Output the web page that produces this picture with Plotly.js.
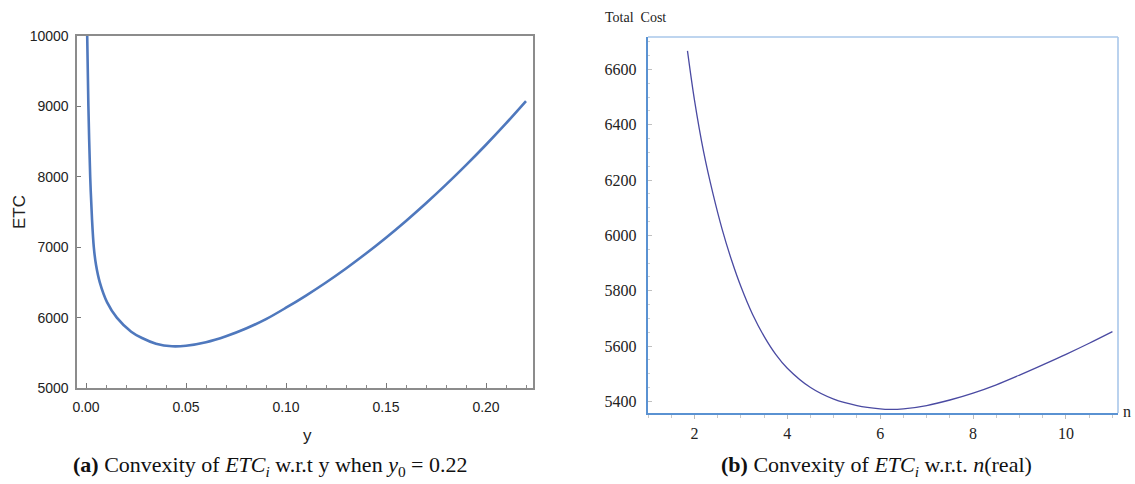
<!DOCTYPE html>
<html>
<head>
<meta charset="utf-8">
<script src="https://cdn.plot.ly/plotly-3.0.1.min.js"></script>
<style>html,body{margin:0;padding:0;background:#fff;}#chart{width:1135px;height:484px;}</style>
</head>
<body>
<div id="chart"></div>
<script>
// Panel (a): ETC vs y
const yValues = [0.0006, 0.0012, 0.0021, 0.003, 0.0039, 0.005, 0.0069, 0.0105, 0.0154, 0.0226, 0.028, 0.035, 0.043, 0.05, 0.06, 0.07, 0.08, 0.09, 0.10, 0.11, 0.12, 0.13, 0.14, 0.15, 0.16, 0.17, 0.18, 0.19, 0.20, 0.21, 0.22];
const etcValues = [10000, 9000, 8000, 7400, 7000, 6750, 6500, 6220, 6000, 5800, 5710, 5630, 5592, 5600, 5650, 5735, 5845, 5978, 6140, 6313, 6499, 6698, 6910, 7135, 7373, 7624, 7888, 8165, 8455, 8758, 9075];
const xTicksA = [0.00, 0.05, 0.10, 0.15, 0.20];
const xTickLabelsA = ["0.00", "0.05", "0.10", "0.15", "0.20"];
const yTicksA = [5000, 6000, 7000, 8000, 9000, 10000];
const yTickLabelsA = ["5000", "6000", "7000", "8000", "9000", "10000"];

// Panel (b): Total Cost vs n
const nValues = [1.85, 2.0, 2.2, 2.4, 2.6, 2.8, 3.0, 3.25, 3.5, 3.75, 4.0, 4.5, 5.0, 5.5, 6.0, 6.2, 6.5, 7.0, 7.5, 8.0, 8.5, 9.0, 9.5, 10.0, 10.5, 11.0];
const costValues = [6667, 6490, 6300, 6150, 6020, 5910, 5815, 5715, 5635, 5570, 5520, 5450, 5408, 5385, 5373, 5371, 5373, 5385, 5405, 5430, 5460, 5495, 5532, 5570, 5610, 5652];
const xTicksB = [2, 4, 6, 8, 10];
const yTicksB = [5400, 5600, 5800, 6000, 6200, 6400, 6600];

const sans = "Liberation Sans, Arial, sans-serif";
const serif = "Liberation Serif";

const traces = [
  {x: yValues, y: etcValues, xaxis: 'x', yaxis: 'y', mode: 'lines',
   line: {color: '#4f78bd', width: 2.6, shape: 'spline', smoothing: 0.9}, hoverinfo: 'skip'},
  {x: nValues, y: costValues, xaxis: 'x2', yaxis: 'y2', mode: 'lines',
   line: {color: '#4a4aa2', width: 1.3, shape: 'spline', smoothing: 0.9}, hoverinfo: 'skip'}
];

const layout = {
  width: 1135, height: 484,
  margin: {l: 0, r: 0, t: 0, b: 0},
  paper_bgcolor: '#ffffff', plot_bgcolor: '#ffffff',
  showlegend: false,
  xaxis: {
    domain: [77/1135, 533/1135], range: [-0.0045, 0.2235],
    tickvals: xTicksA, ticktext: xTickLabelsA,
    ticks: 'inside', ticklen: 5, tickcolor: '#777', tickwidth: 1,
    minor: {dtick: 0.01, tick0: 0, ticks: 'inside', ticklen: 3, tickcolor: '#888'},
    showline: true, linecolor: '#8c8c8c', linewidth: 1.6, mirror: true,
    showgrid: false, zeroline: false, ticklabelstandoff: 6,
    tickfont: {family: sans, size: 14, color: '#222'}, anchor: 'y'
  },
  yaxis: {
    domain: [(484-388)/484, (484-36)/484], range: [5000, 10000],
    tickvals: yTicksA, ticktext: yTickLabelsA,
    ticks: 'inside', ticklen: 4, tickcolor: '#777',
    showline: true, linecolor: '#8c8c8c', linewidth: 1.6, mirror: true,
    showgrid: false, zeroline: false, ticklabelstandoff: 4,
    tickfont: {family: sans, size: 14, color: '#222'}, anchor: 'x'
  },
  xaxis2: {
    domain: [648/1135, 1118/1135], range: [1.0, 11.12],
    tickvals: xTicksB,
    ticks: 'outside', ticklen: 4, tickcolor: '#bbbbbb',
    minor: {dtick: 0.5, tick0: 0, ticks: 'outside', ticklen: 3, tickcolor: '#c8c8c8'},
    showline: true, linecolor: '#5a92d2', linewidth: 2.2,
    showgrid: false, zeroline: false, ticklabelstandoff: 1,
    tickfont: {family: serif, size: 16, color: '#222'}, anchor: 'y2'
  },
  yaxis2: {
    domain: [(484-413)/484, (484-37)/484], range: [5358, 6717],
    tickvals: yTicksB,
    ticks: 'inside', ticklen: 4, tickcolor: '#c0c0c0',
    minor: {dtick: 50, ticks: 'inside', ticklen: 2, tickcolor: '#d0d0d0'},
    showline: true, linecolor: '#5a92d2', linewidth: 2.2,
    showgrid: false, zeroline: false, ticklabelstandoff: 6,
    tickfont: {family: serif, size: 16, color: '#222'}, anchor: 'x2'
  },
  shapes: [
    {type: 'line', xref: 'x2 domain', yref: 'y2 domain', x0: 0, x1: 1, y0: 1, y1: 1,
     line: {color: '#a9c7ea', width: 1.6}},
    {type: 'line', xref: 'x2 domain', yref: 'y2 domain', x0: 1, x1: 1, y0: 0, y1: 1,
     line: {color: '#a9c7ea', width: 1.6}}
  ],
  annotations: [
    {text: 'ETC', xref: 'paper', yref: 'paper', x: 19/1135, y: (484-212)/484, textangle: -90,
     xanchor: 'center', yanchor: 'middle',
     showarrow: false, font: {family: sans, size: 17, color: '#222'}},
    {text: 'y', xref: 'paper', yref: 'paper', x: 307/1135, y: (484-435)/484,
     xanchor: 'center', yanchor: 'middle',
     showarrow: false, font: {family: sans, size: 17, color: '#222'}},
    {text: 'Total  Cost', xref: 'paper', yref: 'paper', x: 635/1135, y: (484-18)/484,
     xanchor: 'center', yanchor: 'middle',
     showarrow: false, font: {family: serif, size: 14, color: '#222'}},
    {text: 'n', xref: 'paper', yref: 'paper', x: 1127/1135, y: (484-411)/484,
     xanchor: 'center', yanchor: 'middle',
     showarrow: false, font: {family: serif, size: 16, color: '#222'}},
    {text: '<b>(a)</b> Convexity of <i>ETC<sub>i</sub></i> w.r.t y when <i>y</i><sub>0</sub> = 0.22',
     xref: 'paper', yref: 'paper', x: 270/1135, y: (484-466)/484,
     xanchor: 'center', yanchor: 'middle',
     showarrow: false, font: {family: serif, size: 22, color: '#111'}},
    {text: '<b>(b)</b> Convexity of <i>ETC<sub>i</sub></i> w.r.t. <i>n</i>(real)',
     xref: 'paper', yref: 'paper', x: 876/1135, y: (484-466)/484,
     xanchor: 'center', yanchor: 'middle',
     showarrow: false, font: {family: serif, size: 22, color: '#111'}}
  ]
};

Plotly.newPlot('chart', traces, layout, {staticPlot: true, displayModeBar: false});
</script>
</body>
</html>
